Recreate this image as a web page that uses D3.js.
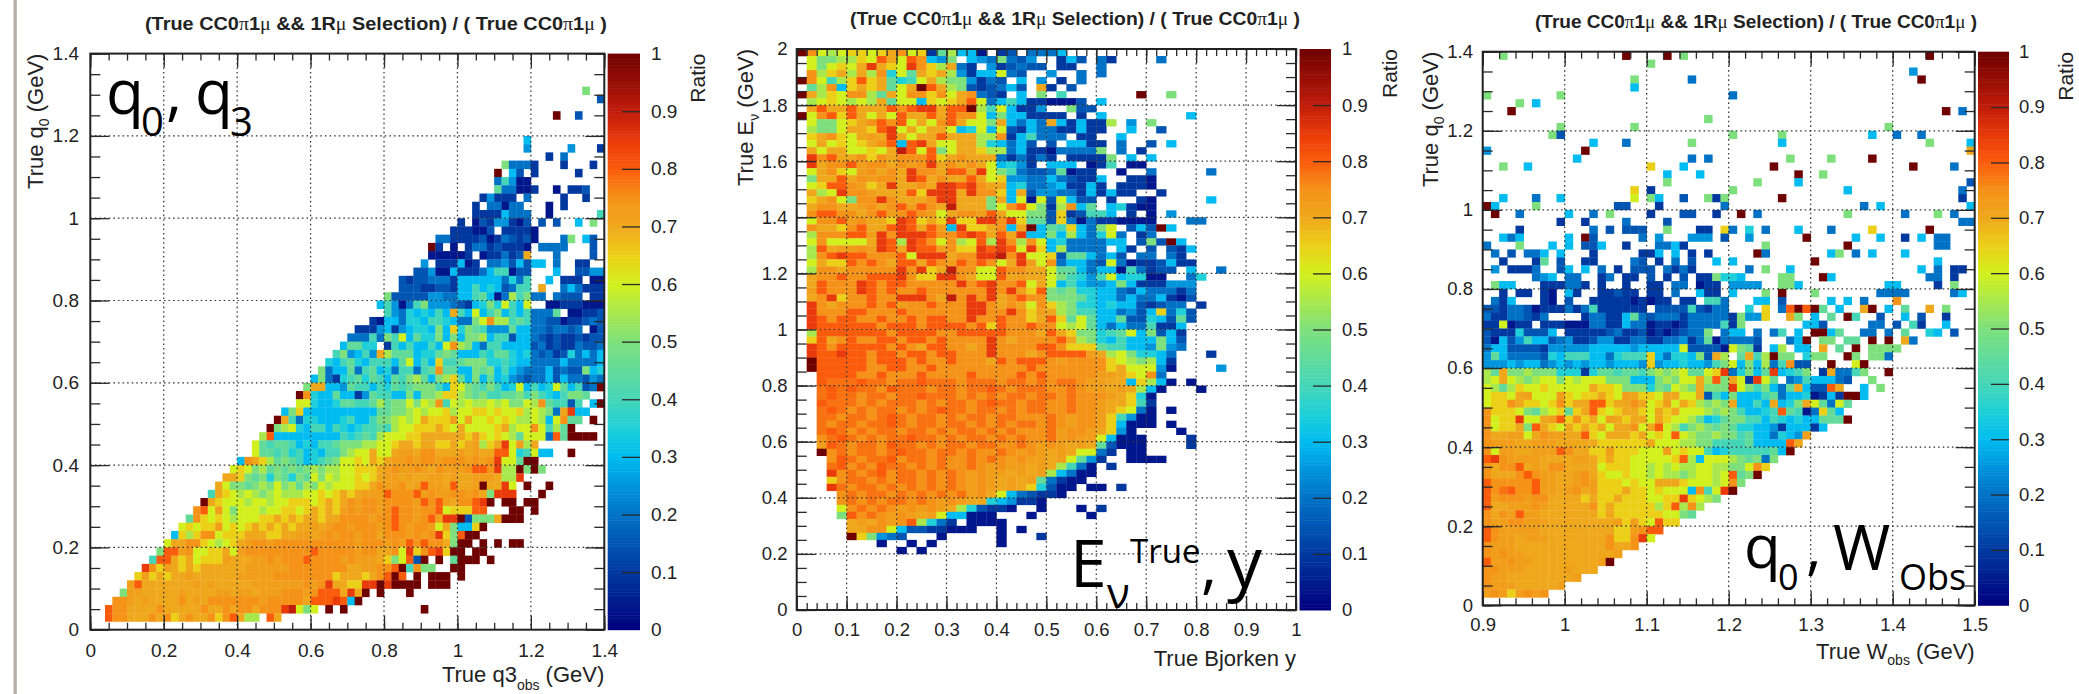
<!DOCTYPE html>
<html>
<head>
<meta charset="utf-8">
<script src="https://cdn.jsdelivr.net/npm/d3@7"></script>
<style>
  html, body { margin: 0; padding: 0; background: #fff; }
  svg { display: block; }
  text { font-family: "Liberation Sans", Arial, sans-serif; fill: #222; }
  .big { font-family: "Open Sans", sans-serif; fill: #000; }
  .sym { font-family: "Liberation Serif", serif; font-weight: normal; }
</style>
</head>
<body>
<svg id="chart" width="2079" height="694"></svg>
<script>
// one char per bin, this is the ratio it stands for
var levelChars = ["0","1","a","2","b","3","c","4","d","5","e","6","f","7","k","g","m","8","h","9","X"];
var levelValues = [0.04,0.1,0.15,0.2,0.25,0.3,0.35,0.4,0.45,0.5,0.55,0.6,0.65,0.7,0.72,0.75,0.78,0.8,0.85,0.9,1];

var paletteStops = [0,0.1,0.2,0.25,0.3,0.35,0.4,0.5,0.6,0.65,0.7,0.75,0.8,0.85,0.9,1];
var paletteColors = ["#00007e","#0038a0","#0072c6","#0094dc","#00bcf0","#1fd0d8","#45d6b8","#7ee07c","#d2f01e","#ecd018","#efa81c","#f59218","#fb5c0c","#e83a0a","#c01c0a","#6e0000"];

var ratioTicks = [0,0.1,0.2,0.3,0.4,0.5,0.6,0.7,0.8,0.9,1];
var q0Ticks = [0,0.2,0.4,0.6,0.8,1,1.2,1.4];
var q3Ticks = [0,0.2,0.4,0.6,0.8,1,1.2,1.4];
var bjorkenTicks = [0,0.1,0.2,0.3,0.4,0.5,0.6,0.7,0.8,0.9,1];
var enuTicks = [0,0.2,0.4,0.6,0.8,1,1.2,1.4,1.6,1.8,2];
var wobsTicks = [0.9,1,1.1,1.2,1.3,1.4,1.5];

// [row, first column, levels]  "." = empty bin
var q3Cells = [
[65,67,"5"],[64,69,"a"],[62,63,"X"],[62,66,"a"],[59,59,"3"],[58,59,"b"],[58,65,"b"],[58,69,"1"],[57,62,"1"],[57,64,"2"],
[56,56,"52221"],[56,64,"1"],[56,68,"1"],[55,55,"X.3a.1"],[55,66,"1"],[54,55,"24b00"],[53,55,"d22001"],[53,63,"0"],[53,65,"11a"],
[52,53,"1b111.2"],[52,64,"1"],[52,67,"1"],[51,52,"1.22022"],[51,62,"0"],[51,64,"1"],[50,52,"11113222"],[50,62,"0"],[50,69,"4"],
[49,50,"1.0a1bb10a.a"],[49,63,"a"],[49,66,"3"],[49,68,"5"],[48,49,"11100a.11110"],[47,47,"221111a012a1a0"],[47,64,"25"],[47,67,"3a"],
[46,46,"X1.0.1221a1110"],[46,61,"222"],[46,64,"2"],[46,68,"a"],[45,46,"000001.01121a7"],[45,63,"2"],[45,68,"a"],
[44,45,"b.111301.22ba3a33"],[44,63,"2"],[44,66,"11"],[43,44,"aab00311123440aa"],[43,63,"3"],[43,66,"aabb"],
[42,42,"a1aa22213333332c24"],[42,62,"3"],[42,64,"111.00"],[41,42,"aaa11aa13343c3a244"],[41,61,"7"],[41,64,"232111"],
[40,40,"5aaaaabb22334d302e4522"],[40,63,"2aaa.11"],[39,39,"34b0245bbb2a13c5c6436"],[39,62,"00111000"],
[38,40,"4b2c3c34374363453434222d.0011a"],[37,38,"10332cc344c32256gee4d422aa011a2a"],[36,36,"111b31b3cc353fc5d4bbbd3322a22a2.0a"],
[35,35,"222425463dcc535355e344a332a1a11a1aa"],[34,34,"3ddcc.143433436ge532443333a21a112aa2"],[33,33,"45b34b7eddd3ccd5d3334cddc3c2a21ac2323"],
[32,32,"c34dc34443d6343f44d555cc4c332222322223"],[31,31,"5233d24d3c24424dgdd335d5343b2223a2aa53c"],
[30,30,"3521c4dcd43d45ed35efd353d3cb2a223a322ab2"],[29,29,"57733bd4434cd4d55543f65d4543c6343c6d34a2X"],
[28,28,"Xgc33d331bd44335355effe5d544dd5454c3455d"],[27,28,"66c33cdd44ded55656eg46e6ee6e6556egd44a4.3X"],
[26,26,"35f3333333333dd55e6e66fe66ff6f66fe6e527h33"],[25,25,"X742cc333c433455e6e67fffk6766f6f6ee6e36gdd.X"],
[24,24,"X5e6c34434c3c44d4e66fff7f676666f7e66g64edX"],[23,23,"e83333333334c4d4e666ff777777fkf6f6ed66628dXXXX"],
[22,22,"6d4dd43c344d555ee66f77f77ff7f7kef7h6ke7"],[21,22,"6dd4dc43c3445e667667kk7gg777k7k77886c4633..X"],
[20,20,"3g7fed5d43c4d566f67f7kkgkggkgggkgkgh66dXX"],[19,19,"6f65ed5d5d5e5ee66fff7kgkkgk7gkkkg88gheeX5X5"],
[18,18,"77f5d5c5dc5d656e66f6f7kk7k77kk7k77kkk7eeh"],[17,17,"7655d5e565ede56e666ff7gkkg7k8kk7877kX77h6.X..X"],
[16,16,"47f6e6e5e6eee66f6f7f7kkk8ggg8kgkkggkg75hhh...X"],[15,15,"X7f666e66e66fff6f7f7gkggkggggk8g8k7gg8hX.XX.XX"],
[14,14,"g86k65666e66ff6f7f7f"],[14,34,"kgkggkg8ggkgg86fff88...XX.X"],
[13,13,"dgf6f6e666ff7f7f77f77ggggkgg8ggkg8khhXa5557XXX"],[12,12,"6f6ffk6f6f7f7f7f77k7kggkgggkg8gkggk67533fX"],
[11,11,"3fefgg6fff777ff77kk7kgkggkgg7gggkgkghf58XX"],[10,10,"677ggf6e6f7kggkgggggggggggkgggkgk8g8gg75XX.X.X.XX"],
[9,9,"588kg66ff76kggggggggg8gggggkgg77g6hfg8hfXX.XX"],[8,8,"4887f76fffk777kkgkggg8ggggkgkkk7f568aX.X.dXXX.X"],
[7,7,"hgfk7f7f777777kkkkkkgggggggg77kkgg8X4g55..XX"],[6,6,"fkf7f77k777777kkkkkggggggggf777f7g8X8.X.XXX.X"],
[5,5,"k87777777k7k77777kkkkkkkgkgh77ffhhXhXXXX.XXX"],[4,4,"5kk77777k7777kk7kk7kkkgggkg888"],[4,34,"7h7X.X...X"],
[3,3,"ggk7k7777g7k7gggggggkggggg7888h8"],[3,35,"3X"],
[2,2,"8gg7777g77777g77g7gg7ggg"],[2,26,"h9656.X.X"],[2,45,"X"],
[1,2,"8gg777g7gf7g77gfg87ee.87"]
];

var bjorkenCells = [
[79,0,"Xg6e6ff6f7g6f1de330.1a.2223"],[78,0,".655eef68768g3b5.3b252ab..13a.21"],[78,36,"2"],[77,0,".656f67h7f6hgfe721.b1a2aa.11"],[77,30,"2"],
[76,0,".gef7e7egc6d7f7eb13362a..b"],[76,28,"2"],[76,30,"2"],[75,0,"Xg64ef8f7dc467e55b12a.3.b.1.2"],[74,1,"deg3f7f7d67X87e5a1a23a.71"],[74,27,"a"],
[73,0,"X7ef6gged76ggfg67g2a1.3.5.4"],[73,34,"X"],[73,37,"5"],[72,1,"e6f6e6e7d663f6f786234311000a"],[72,30,"3"],
[71,1,"787787778g8hh788Xe46311b..5aa"],[70,0,"X6g8f87676877878gg635331111.1.3"],[70,39,"3"],
[69,1,"6556f7g8g8676g8766573232731311e.b.5"],[68,1,"e55677f8h6767763c636a132211311"],[68,33,"3"],[68,36,"a"],
[67,1,"f7gf67k7h76778777eeg134222.11..3"],[66,1,"676f6f7g838h76677ec323a.a.3311.2..a.3"],[65,1,"767766f6798685677fee2311022225.2.1"],
[64,1,"hg877gfg7ggg8f7g777212121.11115.3.3"],[63,1,"h7gg8kgg7gkgh7g7g763cb1.333.014.00"],[62,1,"67gf6kg7g7hgg7887h6542aa2d011..0..2"],[62,41,"2"],
[61,1,"57787gkgg7h87g77876fbb2232a113..110"],[60,1,"6f88gkf7h77g7hh8hg773c22b31131.1110"],[59,1,"7e6hggk7778fhhh7hggf37abb22131311..1"],
[58,1,"f7g65gghg777ghh777573606a63aa.1..10"],[58,41,"3"],[57,1,"7gg77kg7g8k8g7977756g8651eg3d.3c100"],[56,1,"g88gg7g8kg8gk67ggk876655af1a443.1.0"],[56,37,"b"],
[55,1,"6gg8kg77fh8f7fhffhhghfddaf202110000"],[55,39,"22"],[54,1,"g77fg8778h878k3hff7g37X3d4f3256.a3aX3"],
[53,1,"eggg88khghhh8gg8h8787h3353e32c62.12"],[52,1,"6g66667h8eh8g6ge68ehgeg63c222233.a5aX3"],[51,1,"e87kkgkh87h88kgffh8h86hf3e2222.31.a.a13"],
[50,1,"eg8h88ggg86hhh7gghh9gh66fadd323a.22.21"],[49,1,"67ff8g8g78878gk8g8g67hk6g2332a62011a311"],
[48,1,"egg7ggggghghf79gg668gg776dd32330421aa.3..2"],[47,1,"7gg8gg888hgffhhg76687k77654cb463cc00..2c"],
[46,1,"78gggh8g88ggggghg8hgg8676343bb353111bbb"],[45,1,"k8gggh8g8gg8gggggghghkf85d5cc332a322212"],
[44,1,"7ghfgg8gghhhg79ghgh7g8gg555dc332322310a"],[43,1,"hg7ggg8g8kgg8ggghhg7g76gfe5cc3c33a1a22.1"],
[42,1,"hggg88ggg8gggggghhgghgfk7e544332ba3f2ca"],[41,1,"h8g88gg8gg8g88gghgg8ggf78fd6d33daac3ada"],
[40,1,"h888888g888g8888g8f8gg8gg6e6d323224113"],[39,1,"e8888888g8888gg88888ggg787f55c4d635a31"],
[38,1,"f87g8gg88g88g8gggghg7gggg87e5c3433353a"],[37,1,"h8g88888g8g788gg7ghgggg88gfffd4433b5b2"],
[36,1,"h88h88g88g88g88ggghggg7g8888k7e65cc32"],[36,41,"1"],[35,1,"X88888g888g8gg8ggg78g888gkggggf6e5e31"],
[34,1,"X88888gg88gg8ggggggggg8gggggggf7666b0"],[34,42,"b"],[33,2,"8888gg8ggg8gggg8gggg8g8gggggkk7f6g2"],
[32,2,"8mmm8mmgmm8mmmgmmmgmmgmgmmgkk773fe30"],[32,39,"0"],[31,2,"m8m8mmg8mmmgmmgmm8mgmmmggmgkk7k7e30"],[31,40,"0"],
[30,2,"m8mmgmmgmm8mmmgmgmgmmgmmgmgggk7fc0"],[29,2,"8mmmgmgmmmgmgmmgm8mmgmmggmggk77f41"],[28,2,"m8mgmgmmgmgm8mmgmmgmgmmggmggk7f620"],[28,37,"0"],
[27,2,"mmgmmgm8mgmmgmgmmgmmgggmgkggkf4b00"],[26,2,"mgmmgmm8mgmmgmmgmgmgmmgmgkggkf3000"],[26,37,"0"],
[25,2,"m8mgmgmmgmmgmgmmgmgmgggmkggk7fb0"],[25,38,"0"],[24,2,"gm8mgmgmm8mmgmgmmgmgmggmkgkk63000"],[24,39,"1"],
[23,2,"k8mgmmg8mmgmgmmgmmggmgkgk7k7da000"],[23,39,"1"],[22,2,"Xgmgmmgm8mmgmmgmggmgkgk7k76621.00"],
[21,3,"g8mgmm8gmmgmggmgmgkgkk7k6db1"],[21,33,"00"],[21,35,"00"],[20,3,"m8gmg8mmgmgmggmgkgkk7k7e420"],[20,31,"1"],
[19,3,"hgmgm8gmmgmgmgkgkk7k7ke3200"],[18,3,"fgmmgmgmmgmgmgkgk7k7kd2100"],[17,3,"hmgmmgmgmgmgmgkgk7k7fca00.00"],[17,32,"1"],
[16,4,"gmgmmgmgmgmgmkg7632a110"],[15,4,"gmgmgmmgmgkgk77c3b110"],[14,4,"6gmgmgkgkgk7eca110"],[14,24,"0"],[14,28,"0"],[14,30,"1"],
[13,4,"58gmgkgk7k633000"],[13,23,"0"],[13,29,"0"],[12,5,"7k7gkg8ec21.0000"],[11,5,"77gg63aa11000"],[11,20,"0"],[11,22,"0"],
[10,5,"Xf5b2a"],[10,14,"0"],[10,20,"0"],[10,24,"1"],[9,8,"0"],[9,11,"0"],[9,13,"0"],[9,20,"0"],[8,10,"0"],[8,12,"0"]
];

var wobsCells = [
[69,2,"5"],[69,17,"X"],[69,22,"X"],[69,24,"5"],[69,54,"X"],[68,20,"5"],[67,52,"b"],[66,18,"5"],[66,25,"2"],[66,53,"X"],[65,18,"3"],
[64,0,"5"],[64,9,"5"],[64,30,"2"],[63,4,"5"],[63,6,"3"],[62,3,"X"],[62,56,"X"],[62,58,"2"],[61,27,"5"],[60,9,"5"],[60,18,"5"],[60,49,"5"],
[59,8,"5a"],[59,30,"5"],[59,36,"5"],[59,47,"3"],[59,50,"2"],[59,53,"2"],[58,13,"3"],[58,17,"2"],[58,25,"5"],[58,36,"3"],[58,54,"5"],[58,59,"3"],
[57,0,"b"],[57,12,"X"],[57,59,"7"],[56,11,"3"],[56,25,"2"],[56,27,"2"],[56,37,"5"],[56,42,"5"],[56,47,"X"],
[55,2,"5"],[55,5,"3"],[55,20,"f"],[55,24,"3"],[55,35,"X"],[55,52,"X"],[55,57,"2"],[54,22,"3"],[54,26,"3"],[54,38,"X"],[54,41,"5"],
[53,22,"5"],[53,33,"5"],[53,38,"3"],[53,59,"a"],[52,18,"f"],[52,20,"1"],[52,30,"5"],[52,44,"3"],[52,58,"2"],
[51,2,"3"],[51,6,"2"],[51,9,"3"],[51,18,"6"],[51,20,"53"],[51,24,"a"],[51,27,"515"],[51,36,"X"],[51,58,"1"],
[50,0,"X3"],[50,6,"5"],[50,16,"aa"],[50,21,"1"],[50,29,"2"],[50,46,"2"],[50,48,"3"],[50,59,"3"],
[49,1,"X"],[49,4,"2"],[49,10,"3"],[49,13,"2"],[49,15,"5"],[49,20,"1"],[49,24,"aa"],[49,28,"1"],[49,31,"X"],[49,33,"2"],[49,44,"5"],[49,51,"2"],[49,55,"5"],[49,57,"2"],
[48,9,"1"],[48,12,"1"],[48,17,"2"],[48,22,"a"],[48,58,"22"],
[47,4,"1"],[47,13,"2"],[47,15,"a"],[47,17,"aaa"],[47,22,"5"],[47,26,"11"],[47,29,"f2"],[47,32,"c"],[47,34,"2"],[47,38,"3"],[47,42,"2"],[47,47,"f"],[47,54,"X"],
[46,2,"323"],[46,10,"3"],[46,12,"Xa"],[46,19,"2"],[46,21,"b"],[46,25,"bbb"],[46,29,"a"],[46,32,"b"],[46,39,"X"],[46,45,"3"],[46,48,"3"],[46,51,"1"],[46,53,"3"],[46,55,"22"],
[45,0,"2"],[45,4,"5"],[45,8,"3"],[45,10,"3"],[45,12,"aa3"],[45,17,"1"],[45,21,"2231"],[45,34,"5"],[45,44,"X"],[45,55,"22"],
[44,1,"2"],[44,3,"a"],[44,5,"223.3"],[44,13,"1"],[44,19,"113.3"],[44,25,"1.1"],[44,33,"X2"],[44,42,"35"],[44,45,"2"],[44,47,"3"],[44,51,"3"],
[43,2,"1"],[43,6,"1d"],[43,9,"a"],[43,12,"11"],[43,18,"2a.1.2.a"],[43,28,"3"],[43,30,"3"],[43,40,"X"],[43,55,"3"],
[42,1,"b.1112"],[42,9,"a3.3.2.1.aaa.2121"],[42,32,"2"],[42,34,"5"],[42,37,"3"],[42,53,"3"],[42,55,"2"],[42,57,"11"],
[41,6,"2b3"],[41,10,"22"],[41,14,"12"],[41,17,"11"],[41,20,"a"],[41,22,"1"],[41,24,"a"],[41,26,"115cc3"],[41,36,"55"],[41,41,"X3"],[41,54,"22"],[41,57,"1"],
[40,1,"533"],[40,7,"111221"],[40,14,"1"],[40,17,"1"],[40,20,"11"],[40,23,"22"],[40,26,"011"],[40,30,"bbbb"],[40,36,"553"],[40,49,"33"],[40,55,"1"],[40,57,"5"],
[39,2,"1"],[39,4,"11"],[39,7,"10"],[39,10,"31"],[39,14,"11a"],[39,17,"11"],[39,20,"11"],[39,23,"2"],[39,26,"311"],[39,30,"3"],[39,34,"5"],[39,36,"X"],[39,40,"5"],[39,48,"2222"],[39,57,"23"],
[38,1,"213"],[38,7,"10"],[38,10,"a"],[38,13,"1111"],[38,17,"10101"],[38,22,"1"],[38,24,"11"],[38,27,"44"],[38,29,"2"],[38,33,"33"],[38,36,"a"],[38,42,"3"],[38,44,"3"],[38,46,"2"],[38,50,"g"],
[37,0,"aa122a01112124111111.aaaa4a122"],[37,32,"c.f.28X8Xd.3..7X.3.d..7.5"],
[36,0,"21122a12....122113d2a22212222215bbf"],[36,37,"75"],[36,40,"3"],[36,42,"d"],[36,44,"X4"],[36,48,"a"],[36,51,"3"],[36,53,"a"],[36,56,"1"],
[35,0,"116011.1110002211322011012222415"],[35,39,"33a"],[35,47,"22"],[35,50,"a"],[35,52,"41"],[35,56,"3"],
[34,0,"a111caaa3.11111a211a0101a225.233.2.24.3.XX3d"],[34,46,"22"],[34,49,"2"],[34,51,"d"],[34,54,"c3"],[34,57,"a"],
[33,0,"a03ab433a2b11abb11221122b12d02222a...23X.55"],[33,44,"dd"],[33,47,"X"],[33,49,"X"],[33,51,"72"],
[32,0,"233aaaa1bbbbb33333b333336aaaa065d1.3e.33.7.d.X.5555"],
[31,0,"bd32222ac3444332c444f32cc35a7e.d74eX55.c55..X5.552"],
[30,0,"bbb3b332b3b3b33b333bfb33c33b456353e24gaa..X..6X"],
[29,0,"ed755e555ccc1cdd4dd45e5e6dd6fh2c53dh3c45.172245..X"],
[28,0,"e676e5e6656e666555333 5e5667e85761h6d.2b43332a..5".replace(" ","")],
[27,0,"6edef66f666667ff6555c5d6e57555h65453 2d73aa87..3.5".replace(" ","")],
[26,0,"6ff67k666kf6ff7f6k7ff677667a4353334d233c0131XX3"],
[25,0,"6ffg7ff6fgf7788f77g76fk67fe5e57334373c576d26d"],
[24,0,"gfff65de6fdf78f6f77f67f7666e5e5433c48d402fd3"],
[23,0,"g6ffh667k8fgf76k7f7767f66ed3cd554434c3c33dddX"],
[22,0,"g6ff7587f67f7f7677g6786e45e5d5dcc33b133313"],
[21,0,"g77kk67gkk778f6777f76f686e55e554d332c3bk"],
[20,0,"gkkk77kkk77777ffffff7666ee554444d333387"],
[19,0,"g6kk77kkk8g77ffkfff666k6f6643c44444d3X"],
[18,0,"8hgkkkk7777kk7f7ff66666f8e3666e5d525"],
[17,0,"g7gg87k7gg77776fff66e6e6ee66ee556gf"],
[16,0,"g777g8gkk77kg7f66f66e6ee5e66e68d5X"],
[15,0,"8ggggg8kk77kgkfff6f66777f666e6g5"],
[14,0,"8gm8gg8kk7kg7kfff7ff6f6663g46hX"],
[13,0,"8kgggkgg7777f7ff7fff66ffhf6e5"],
[12,0,"877kkkgk77777gf7fffffef8ege"],
[11,0,"g7gk8kk7777777f7ffffff665d"],
[10,0,"gkkggkkk77777777kfkf68ff"],
[9,0,"8gkkkkk777777777ffkg88"],
[8,0,"8gkk7kkk7777777gffgh6"],
[7,0,"gkkk77777777777g77g"],
[6,0,"gkgkk77777777777k"],
[5,0,"8kkgkk77777777kX"],
[4,0,"ggkkk77777k777"],
[3,0,"gkk77777777k"],
[2,0,"gkkk77777k"],
[1,0,"kgkfkgkg"]
];

var svg = d3.select("#chart");
var color = d3.scaleLinear().domain(paletteStops).range(paletteColors).interpolate(d3.interpolateRgb);
var levelOf = d3.scaleOrdinal().domain(levelChars).range(levelValues);

// left edge strip of the slide
svg.append("rect").attr("x", 13.5).attr("y", 0).attr("width", 3.3).attr("height", 694).attr("fill", "#b4aea7");

function expand(cells) {
  var out = [];
  cells.forEach(function(c) {
    c[2].split("").forEach(function(ch, k) {
      if (ch != ".") out.push({ row: c[0], col: c[1] + k, v: levelOf(ch) });
    });
  });
  return out;
}

function frange(a, b, step) {
  var n = Math.round((b - a) / step), r = [];
  for (var i = 0; i <= n; i++) r.push(+(a + i * step).toFixed(4));
  return r;
}

function addRich(sel, parts) {
  parts.forEach(function(p) {
    var t = sel.append("tspan").text(p[0]);
    if (p[1] == "sym") t.attr("class", "sym");
    if (p[1] == "sub") t.attr("font-size", p[2]).attr("dy", p[3]);
    if (p[1] == "back") t.attr("dy", p[3]);
  });
}

function drawPanel(p) {
  var x = d3.scaleLinear().domain(p.xDomain).range([p.left, p.right]);
  var y = d3.scaleLinear().domain(p.yDomain).range([p.bottom, p.top]);
  var g = svg.append("g");

  g.selectAll(".cell")
    .data(expand(p.cells))
    .enter().append("rect")
    .attr("class", "cell")
    .attr("x", function(d) { return x(p.xDomain[0] + d.col * p.xBin); })
    .attr("y", function(d) { return y(p.yDomain[0] + (d.row + 1) * p.yBin); })
    .attr("width", x(p.xDomain[0] + p.xBin) - x(p.xDomain[0]) + 0.3)
    .attr("height", y(p.yDomain[0]) - y(p.yDomain[0] + p.yBin) + 0.3)
    .attr("fill", function(d) { return color(d.v); });

  // dotted grid
  var grid = g.append("g").attr("stroke", "#333").attr("stroke-width", 1.2).attr("stroke-dasharray", "1.6,3");
  p.xTicks.slice(1, -1).forEach(function(t) {
    grid.append("line").attr("x1", x(t)).attr("x2", x(t)).attr("y1", p.top).attr("y2", p.bottom);
  });
  p.yTicks.slice(1, -1).forEach(function(t) {
    grid.append("line").attr("x1", p.left).attr("x2", p.right).attr("y1", y(t)).attr("y2", y(t));
  });

  function tickAxis(axisFn, scale, values, size, tx, ty) {
    var a = g.append("g")
      .attr("transform", "translate(" + tx + "," + ty + ")")
      .call(axisFn(scale).tickValues(values).tickSizeInner(-size).tickSizeOuter(0).tickFormat(""));
    a.select(".domain").remove();
    a.selectAll("line").attr("stroke", "#2a2a2a").attr("stroke-width", 1.3);
  }
  tickAxis(d3.axisBottom, x, p.xMinor, 7, 0, p.bottom);
  tickAxis(d3.axisBottom, x, p.xTicks, 14, 0, p.bottom);
  tickAxis(d3.axisTop, x, p.xMinor, 7, 0, p.top);
  tickAxis(d3.axisTop, x, p.xTicks, 14, 0, p.top);
  tickAxis(d3.axisLeft, y, p.yMinor, 10, p.left, 0);
  tickAxis(d3.axisLeft, y, p.yTicks, 19, p.left, 0);
  tickAxis(d3.axisRight, y, p.yMinor, 10, p.right, 0);
  tickAxis(d3.axisRight, y, p.yTicks, 19, p.right, 0);

  g.append("rect").attr("x", p.left).attr("y", p.top)
    .attr("width", p.right - p.left).attr("height", p.bottom - p.top)
    .attr("fill", "none").attr("stroke", "#222").attr("stroke-width", 2);

  // tick labels
  var xLabels = g.append("g")
    .attr("transform", "translate(0," + p.xLabelY + ")")
    .call(d3.axisBottom(x).tickValues(p.xTicks).tickSize(0).tickPadding(0).tickFormat(d3.format("~g")));
  xLabels.select(".domain").remove();
  xLabels.selectAll("text").attr("font-size", p.fontSize).attr("y", 0).attr("dy", "0.35em")
    .style("font-family", "Liberation Sans").style("fill", "#222");

  var yLabels = g.append("g")
    .attr("transform", "translate(" + p.yLabelX + ",0)")
    .call(d3.axisLeft(y).tickValues(p.yTicks).tickSize(0).tickPadding(0).tickFormat(d3.format("~g")));
  yLabels.select(".domain").remove();
  yLabels.selectAll("text").attr("font-size", p.fontSize).attr("x", 0)
    .style("font-family", "Liberation Sans").style("fill", "#222");

  // colour bar
  var bar = d3.scaleLinear().domain([0, 1]).range([p.bottom, p.top]);
  var bands = d3.range(0, 1, 0.005);
  g.selectAll(".band").data(bands).enter().append("rect")
    .attr("class", "band")
    .attr("x", p.barLeft)
    .attr("y", function(d) { return bar(d + 0.005); })
    .attr("width", p.barRight - p.barLeft)
    .attr("height", bar(0) - bar(0.005) + 0.5)
    .attr("fill", function(d) { return color(d + 0.0025); });
  tickAxis(d3.axisRight, bar, ratioTicks.slice(1, -1), 18, p.barRight, 0);

  var barLabels = g.append("g")
    .attr("transform", "translate(" + p.barLabelX + ",0)")
    .call(d3.axisRight(bar).tickValues(ratioTicks).tickSize(0).tickPadding(0).tickFormat(d3.format("~g")));
  barLabels.select(".domain").remove();
  barLabels.selectAll("text").attr("font-size", p.fontSize).attr("x", 0)
    .style("font-family", "Liberation Sans").style("fill", "#222");

  g.append("text")
    .attr("transform", "translate(" + p.ratioX + "," + p.top + ") rotate(-90)")
    .attr("text-anchor", "end").attr("dy", "0.35em")
    .attr("font-size", 21).text("Ratio");

  // title
  var title = g.append("text")
    .attr("x", p.titleLeft).attr("y", p.titleY).attr("dy", "0.35em")
    .attr("font-size", 18.5).attr("font-weight", "bold")
    .attr("textLength", p.titleWidth).attr("lengthAdjust", "spacingAndGlyphs");
  addRich(title, [["(True CC0"],["π","sym"],["1"],["μ","sym"],[" && 1R"],["μ","sym"],[" Selection) / ( True CC0"],["π","sym"],["1"],["μ","sym"],[" )"]]);

  // axis titles
  var xt = g.append("text").attr("x", p.right).attr("y", p.xTitleY).attr("dy", "0.35em")
    .attr("text-anchor", "end").attr("font-size", 22);
  addRich(xt, p.xTitle);
  var yt = g.append("text")
    .attr("transform", "translate(" + p.yTitleX + "," + p.top + ") rotate(-90)")
    .attr("text-anchor", "end").attr("dy", "0.35em").attr("font-size", 22);
  addRich(yt, p.yTitle);

  p.labels.forEach(function(l) {
    g.append("text").attr("class", "big").attr("x", l[0]).attr("y", l[1]).attr("font-size", l[2]).text(l[3]);
  });
}

drawPanel({
  cells: q3Cells, xDomain: [0, 1.4], yDomain: [0, 1.4], xBin: 0.02, yBin: 0.02,
  left: 90.3, right: 604.3, top: 53.6, bottom: 629.7, barLeft: 607.7, barRight: 640,
  xTicks: q3Ticks, yTicks: q0Ticks, xMinor: frange(0, 1.4, 0.05), yMinor: frange(0, 1.4, 0.05),
  fontSize: 19, xLabelY: 650, yLabelX: 79, barLabelX: 651, ratioX: 698,
  titleLeft: 145, titleWidth: 462, titleY: 23.5, xTitleY: 674,
  xTitle: [["True q3"],["obs","sub",14,"8"],[" (GeV)","back",0,"-8"]],
  yTitleX: 35,
  yTitle: [["True q"],["0","sub",14,"6"],[" (GeV)","back",0,"-6"]],
  labels: [[106, 114, 62, "q"], [141, 136, 40, "0"], [166, 114, 62, ","], [195, 114, 62, "q"], [230, 136, 40, "3"]]
});

drawPanel({
  cells: bjorkenCells, xDomain: [0, 1], yDomain: [0, 2], xBin: 0.02, yBin: 0.025,
  left: 796.7, right: 1296, top: 49, bottom: 610, barLeft: 1299.6, barRight: 1331,
  xTicks: bjorkenTicks, yTicks: enuTicks, xMinor: frange(0, 1, 0.02), yMinor: frange(0, 2, 0.05),
  fontSize: 18.5, xLabelY: 630, yLabelX: 787.5, barLabelX: 1342, ratioX: 1390,
  titleLeft: 850, titleWidth: 450, titleY: 19, xTitleY: 658,
  xTitle: [["True Bjorken y"]],
  yTitleX: 745,
  yTitle: [["True E"],["ν","sub",14,"6"],[" (GeV)","back",0,"-6"]],
  labels: [[1070, 587, 66, "E"], [1107, 608, 42, "ν"], [1130, 563, 33, "True"], [1201, 587, 62, ","], [1227, 587, 70, "y"]]
});

drawPanel({
  cells: wobsCells, xDomain: [0.9, 1.5], yDomain: [0, 1.4], xBin: 0.01, yBin: 0.02,
  left: 1482.7, right: 1974.7, top: 51.7, bottom: 605.3, barLeft: 1978, barRight: 2009,
  xTicks: wobsTicks, yTicks: q0Ticks, xMinor: frange(0.9, 1.5, 0.02), yMinor: frange(0, 1.4, 0.05),
  fontSize: 18.5, xLabelY: 625, yLabelX: 1473, barLabelX: 2019, ratioX: 2066,
  titleLeft: 1535, titleWidth: 442, titleY: 22, xTitleY: 651,
  xTitle: [["True W"],["obs","sub",14,"6"],[" (GeV)","back",0,"-6"]],
  yTitleX: 1430,
  yTitle: [["True q"],["0","sub",14,"6"],[" (GeV)","back",0,"-6"]],
  labels: [[1744, 568, 60, "q"], [1778, 590, 36, "0"], [1806, 568, 60, ","], [1833, 570, 62, "W"], [1899, 590, 36, "Obs"]]
});
</script>
</body>
</html>
